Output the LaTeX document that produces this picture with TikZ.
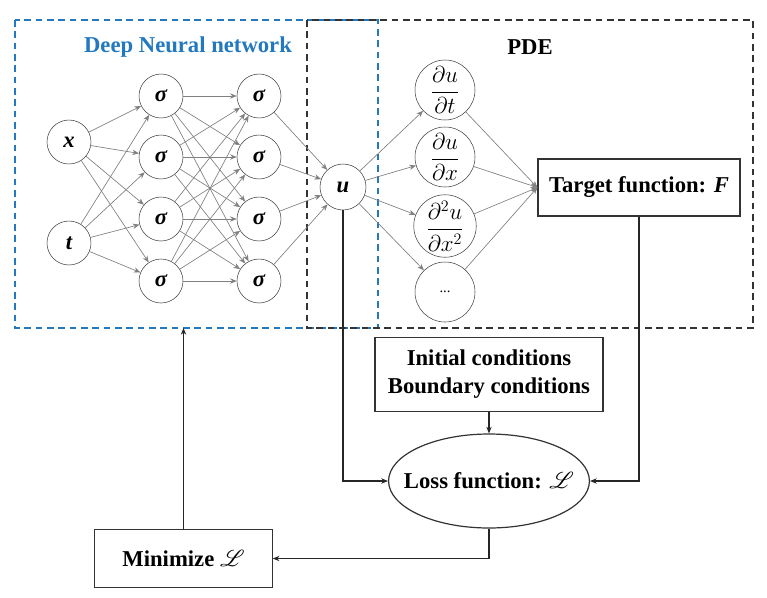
\documentclass[tikz,border=0pt]{standalone}
\usepackage{fontspec}
\setmainfont{Liberation Serif}
\usepackage{amsmath,mathrsfs}
\usetikzlibrary{arrows.meta,shapes.geometric}

\definecolor{dnnblue}{RGB}{35,120,190}

\begin{document}
\begin{tikzpicture}[
    x=0.75pt, y=-0.75pt,
    neuron/.style={draw=black!75, circle, fill=white, minimum size=#1,
                   inner sep=0pt, font=\fontsize{17}{20}\selectfont\bfseries\itshape},
    neuron/.default=33pt,
    blk/.style={draw=black!80, fill=white, line width=0.9pt, align=center,
                inner sep=0pt, font=\fontsize{17}{21}\selectfont\bfseries},
    con/.style={-{Stealth[length=5pt,width=4pt]}, black!50, line width=0.5pt},
    flow/.style={-{Stealth[length=5pt,width=4pt]}, black!85, line width=0.8pt},
    frame/.style={dash pattern=on 5pt off 3.5pt, line width=1.1pt},
  ]
    \useasboundingbox (0,0) rectangle (767,597);

    % Frames
    \draw[frame, dnnblue] (15,20) rectangle (378,328);
    \draw[frame, black!80] (307,20) rectangle (753,328);
    \node[text=dnnblue, font=\fontsize{17}{20}\selectfont\bfseries] (dnnlbl) at (188,47) {Deep Neural network};
    \node[font=\fontsize{17}{20}\selectfont\bfseries] (pdelbl) at (530,47) {PDE};
    \coordinate (dnnbot) at (183.5,328);

    % Inputs
    \node[neuron] (x) at (69,142) {x};
    \node[neuron] (t) at (69,243) {t};

    % Hidden layers
    \foreach \i/\y in {1/96, 2/157, 3/219, 4/281} {
      \node[neuron] (a\i) at (161,\y) {σ};
      \node[neuron] (b\i) at (259,\y) {σ};
    }

    % Output
    \node[neuron=34.5pt] (u) at (343,187) {u};

    % Derivatives
    \node[neuron=45pt, font=\fontsize{17}{20}\selectfont] (ut)   at (445,90)  {$\dfrac{\partial u}{\partial t}$};
    \node[neuron=45pt, font=\fontsize{17}{20}\selectfont] (ux)   at (445,157) {$\dfrac{\partial u}{\partial x}$};
    \node[neuron=45pt, font=\fontsize{17}{20}\selectfont] (uxx)  at (445,226) {$\dfrac{\partial^2 u}{\partial x^2}$};
    \node[neuron=45pt, font=\fontsize{11}{13}\selectfont] (more) at (445,292) {...};

    % Boxes
    \node[blk, minimum width=151.5pt, minimum height=42.75pt] (target) at (639,187.5) {Target function: \textit{F}};
    \node[blk, minimum width=171pt, minimum height=56pt] (cond) at (489,374.5) {Initial conditions\\Boundary conditions};
    \node[blk, ellipse, inner xsep=-10.5pt, minimum width=142.5pt, minimum height=70.5pt] (loss) at (489,481) {Loss function: $\mathscr{L}$};
    \node[blk, minimum width=133pt, minimum height=43pt] (mini) at (183.5,558.5) {Minimize $\mathscr{L}$};

    % Network connections
    \foreach \i in {1,...,4} {
      \draw[con] (x) -- (a\i);
      \draw[con] (t) -- (a\i);
      \foreach \j in {1,...,4}
        \draw[con] (a\i) -- (b\j);
      \draw[con] (b\i) -- (u);
    }
    \foreach \d in {ut, ux, uxx, more} {
      \draw[con] (u) -- (\d);
      \draw[con] (\d) -- (target.west);
    }

    % Loss and training loop
    \draw[flow] (u.south) |- (loss.west);
    \draw[flow] (target.south) |- (loss.east);
    \draw[flow] (cond) -- (loss);
    \draw[flow] (loss.south) |- (mini.east);
    \draw[flow] (mini.north) -- (dnnbot);
  \end{tikzpicture}
\end{document}
